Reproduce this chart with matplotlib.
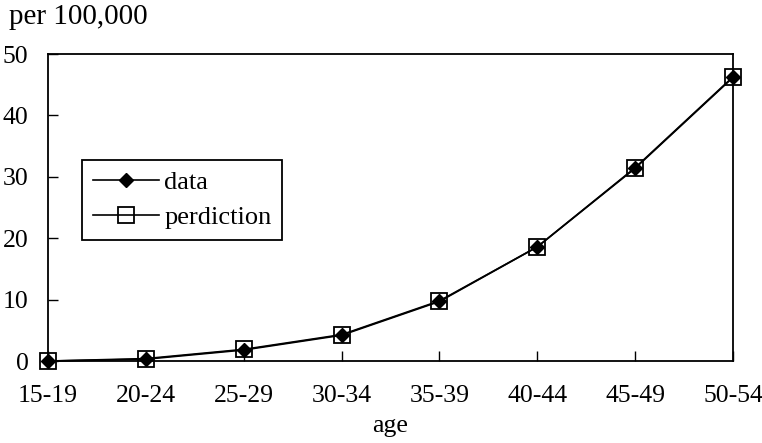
import matplotlib
matplotlib.use("Agg")
import matplotlib.pyplot as plt

plt.rcParams['font.family'] = ['Liberation Serif', 'DejaVu Serif']

ages = ["15-19", "20-24", "25-29", "30-34", "35-39", "40-44", "45-49", "50-54"]
data = [0.0, 0.3, 1.8, 4.2, 9.7, 18.6, 31.5, 46.3]
prediction = [0.0, 0.4, 1.9, 4.3, 9.8, 18.6, 31.4, 46.2]

fig = plt.figure(figsize=(7.62, 4.43), dpi=100)
ax = fig.add_axes([0.063, 0.185, 0.899, 0.693])

x = range(len(ages))
ax.plot(x, data, color="black", lw=1.2, marker="D", markersize=7.5,
        markerfacecolor="black", markeredgecolor="black", label="data",
        zorder=4, clip_on=False)
ax.plot(x, prediction, color="black", lw=1.2, marker="s", markersize=11,
        markerfacecolor="none", markeredgecolor="black", markeredgewidth=1.3,
        label="perdiction", zorder=3, clip_on=False)

ax.set_xlim(0, len(ages) - 1)
ax.set_ylim(0, 50)
ax.set_xticks(list(x))
ax.set_xticklabels(ages)
ax.set_yticks([0, 10, 20, 30, 40, 50])
ax.tick_params(direction="in", length=7, width=1, labelsize=18.5)
ax.tick_params(axis="x", pad=17)
ax.tick_params(axis="y", pad=14)
ax.get_xticklabels()[-1].set_horizontalalignment("center")
for s in ax.spines.values():
    s.set_linewidth(1.3)

ax.set_xlabel("age", fontsize=18.5, labelpad=6)
fig.text(0.012, 0.962, "per 100,000", fontsize=21, va="center", ha="left")

leg = ax.legend(loc="upper left", bbox_to_anchor=(0.05, 0.655), fontsize=19,
                frameon=True, fancybox=False, edgecolor="black", framealpha=1,
                handlelength=2.5, handletextpad=0.2, borderpad=0.4, labelspacing=0.45,
                borderaxespad=0)
leg.get_frame().set_linewidth(1.3)

fig.savefig("out.png", dpi=100)
